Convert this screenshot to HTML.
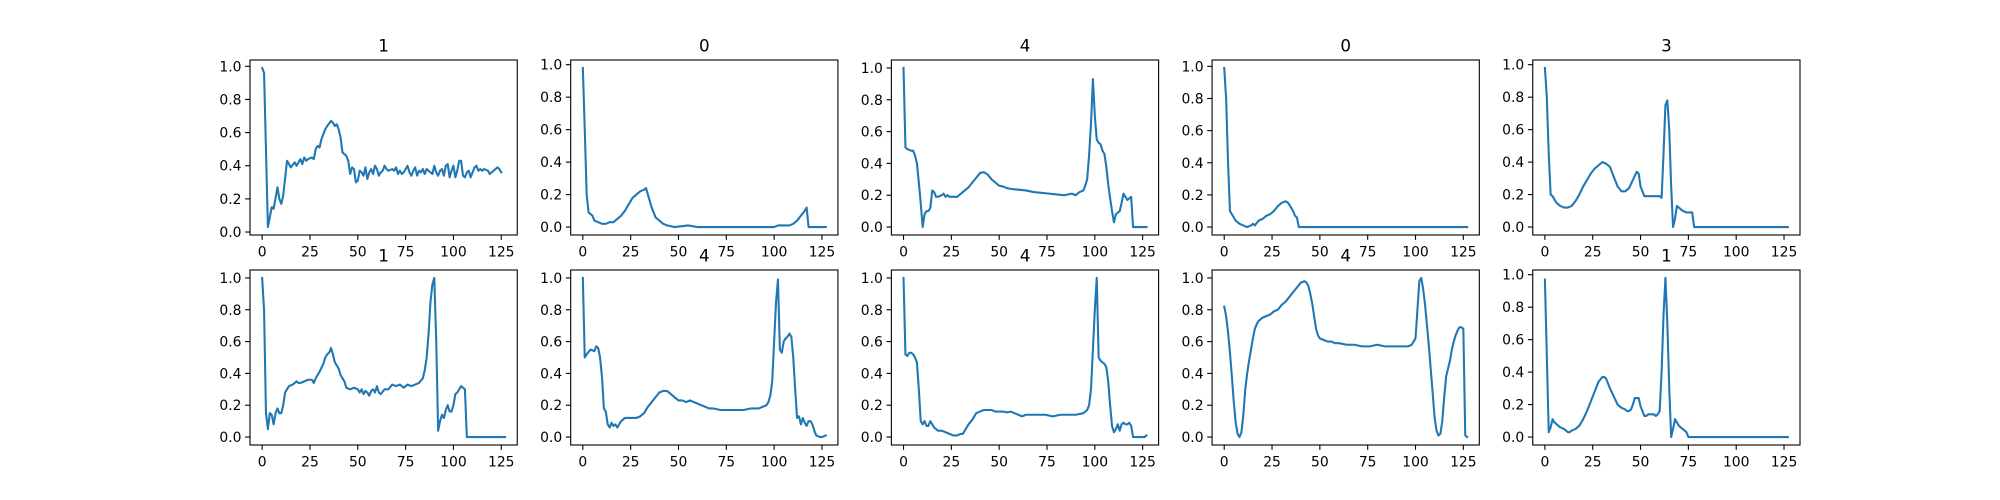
<!DOCTYPE html>
<html><head><meta charset="utf-8"><style>
html,body{margin:0;padding:0;background:#fff;}
svg{display:block;}
text{font-family:"DejaVu Sans","Liberation Sans",sans-serif;fill:#000;}
</style></head>
<body>
<svg id="fig" width="2000" height="500" xmlns="http://www.w3.org/2000/svg"></svg>
<script>
const titles = ["1","0","4","0","3","1","4","4","4","1"];
const xTicks = [0,25,50,75,100,125];
const yTicks = [0,0.2,0.4,0.6,0.8,1.0];
const yTickLabels = ["0.0","0.2","0.4","0.6","0.8","1.0"];
const s1 = [[0,0.99],[1,0.96],[3,0.03],[5,0.15],[6,0.14],[8,0.27],[9,0.2],[10,0.17],[11,0.22],[13,0.43],[14,0.41],[15,0.39],[17,0.42],[18,0.40],[20,0.44],[21,0.41],[22,0.45],[23,0.43],[24,0.44],[26,0.45],[27,0.44],[28,0.5],[29,0.52],[30,0.51],[31,0.56],[32,0.59],[33,0.62],[34,0.64],[36,0.67],[37,0.66],[38,0.64],[39,0.65],[40,0.62],[41,0.57],[42,0.48],[43,0.47],[44,0.46],[45,0.43],[46,0.35],[47,0.39],[48,0.38],[49,0.3],[50,0.31],[51,0.37],[52,0.36],[53,0.34],[54,0.39],[55,0.32],[56,0.36],[57,0.38],[58,0.35],[59,0.4],[60,0.38],[61,0.34],[62,0.36],[63,0.37],[64,0.40],[65,0.38],[66,0.37],[68,0.38],[69,0.37],[70,0.39],[71,0.35],[72,0.37],[73,0.35],[74,0.36],[76,0.40],[77,0.36],[78,0.34],[79,0.37],[80,0.39],[81,0.34],[82,0.37],[83,0.36],[84,0.38],[85,0.35],[86,0.38],[88,0.36],[89,0.35],[90,0.40],[91,0.36],[92,0.34],[93,0.37],[94,0.38],[95,0.34],[96,0.40],[97,0.41],[98,0.33],[99,0.37],[100,0.40],[101,0.33],[102,0.37],[103,0.43],[104,0.43],[105,0.34],[106,0.33],[107,0.36],[108,0.37],[109,0.33],[110,0.36],[111,0.39],[112,0.40],[113,0.37],[114,0.38],[115,0.37],[116,0.38],[118,0.37],[119,0.35],[121,0.37],[122,0.38],[123,0.39],[124,0.38],[125,0.36]];
const s2 = [[0,0.98],[1,0.6],[2,0.2],[3,0.09],[4,0.08],[5,0.07],[6,0.04],[8,0.03],[10,0.02],[12,0.02],[14,0.03],[16,0.03],[18,0.05],[20,0.07],[22,0.1],[24,0.14],[26,0.18],[28,0.2],[30,0.22],[32,0.23],[33,0.24],[34,0.2],[36,0.12],[38,0.06],[40,0.04],[42,0.02],[44,0.01],[48,0.0],[55,0.01],[60,0.0],[100,0.0],[102,0.01],[106,0.01],[108,0.01],[110,0.02],[112,0.04],[114,0.07],[116,0.1],[117,0.12],[118,0.0],[127,0.0]];
const s3 = [[0,1.0],[1,0.5],[2,0.49],[4,0.48],[5,0.48],[6,0.45],[7,0.4],[8,0.28],[9,0.15],[10,0.0],[11,0.08],[12,0.1],[13,0.1],[14,0.12],[15,0.23],[16,0.22],[17,0.19],[18,0.19],[20,0.2],[21,0.21],[22,0.19],[23,0.2],[24,0.19],[26,0.19],[28,0.19],[30,0.21],[32,0.23],[34,0.25],[36,0.28],[38,0.31],[40,0.34],[42,0.345],[44,0.33],[46,0.3],[48,0.28],[50,0.26],[52,0.255],[54,0.245],[56,0.24],[60,0.235],[64,0.23],[68,0.22],[72,0.215],[76,0.21],[80,0.205],[84,0.2],[88,0.21],[90,0.2],[92,0.22],[94,0.23],[95,0.26],[96,0.3],[97,0.45],[98,0.65],[99,0.93],[100,0.7],[101,0.55],[102,0.53],[103,0.52],[104,0.48],[105,0.46],[106,0.38],[107,0.27],[108,0.18],[109,0.1],[110,0.03],[111,0.08],[112,0.09],[113,0.1],[114,0.15],[115,0.21],[116,0.19],[117,0.17],[118,0.18],[119,0.19],[120,0.0],[127,0.0]];
const s4 = [[0,0.99],[1,0.8],[2,0.4],[3,0.1],[4,0.08],[5,0.06],[6,0.04],[7,0.03],[8,0.02],[10,0.01],[12,0.0],[14,0.01],[15,0.02],[16,0.01],[18,0.04],[20,0.05],[22,0.07],[24,0.08],[26,0.1],[28,0.13],[30,0.15],[32,0.16],[33,0.155],[34,0.14],[36,0.1],[37,0.07],[38,0.06],[39,0.0],[127,0.0]];
const s5 = [[0,0.98],[1,0.8],[2,0.45],[3,0.2],[4,0.19],[6,0.15],[8,0.13],[10,0.12],[12,0.12],[14,0.13],[16,0.16],[18,0.2],[20,0.25],[22,0.29],[24,0.33],[26,0.36],[28,0.38],[30,0.4],[32,0.39],[34,0.37],[36,0.31],[38,0.25],[40,0.22],[42,0.22],[44,0.24],[46,0.29],[48,0.34],[49,0.33],[50,0.25],[52,0.19],[54,0.19],[56,0.19],[58,0.19],[60,0.19],[61,0.18],[62,0.45],[63,0.75],[64,0.78],[65,0.6],[66,0.25],[67,0.0],[68,0.05],[69,0.13],[70,0.12],[72,0.1],[74,0.09],[76,0.09],[77,0.09],[78,0.0],[127,0.0]];
const s6 = [[0,1.0],[1,0.8],[2,0.15],[3,0.05],[4,0.15],[5,0.14],[6,0.08],[7,0.15],[8,0.18],[9,0.15],[10,0.15],[11,0.2],[12,0.28],[13,0.3],[14,0.32],[16,0.33],[18,0.35],[19,0.34],[20,0.34],[22,0.35],[24,0.36],[26,0.36],[27,0.34],[28,0.37],[29,0.39],[30,0.41],[32,0.46],[33,0.5],[34,0.52],[35,0.53],[36,0.56],[37,0.52],[38,0.47],[39,0.45],[40,0.43],[41,0.39],[42,0.37],[43,0.35],[44,0.31],[46,0.30],[48,0.31],[50,0.3],[51,0.28],[52,0.3],[53,0.27],[54,0.29],[55,0.28],[56,0.26],[57,0.29],[58,0.3],[59,0.28],[60,0.32],[61,0.28],[62,0.27],[64,0.3],[66,0.3],[68,0.33],[70,0.32],[72,0.33],[74,0.31],[76,0.33],[78,0.32],[80,0.33],[82,0.34],[84,0.37],[85,0.42],[86,0.5],[87,0.65],[88,0.85],[89,0.96],[90,1.0],[91,0.6],[92,0.04],[93,0.1],[94,0.14],[95,0.12],[96,0.17],[97,0.2],[98,0.16],[99,0.16],[100,0.2],[101,0.27],[102,0.28],[103,0.3],[104,0.32],[105,0.31],[106,0.3],[107,0.0],[127,0.0]];
const s7 = [[0,1.0],[1,0.5],[2,0.52],[4,0.55],[6,0.54],[7,0.57],[8,0.56],[9,0.5],[10,0.38],[11,0.18],[12,0.16],[13,0.08],[14,0.06],[15,0.09],[16,0.07],[17,0.08],[18,0.06],[20,0.1],[22,0.12],[24,0.12],[26,0.12],[28,0.12],[30,0.13],[32,0.15],[34,0.19],[36,0.22],[38,0.25],[40,0.28],[42,0.29],[44,0.29],[46,0.27],[48,0.25],[50,0.23],[52,0.23],[54,0.22],[56,0.23],[58,0.22],[60,0.21],[62,0.2],[64,0.19],[66,0.18],[68,0.18],[72,0.17],[76,0.17],[80,0.17],[84,0.17],[88,0.18],[92,0.18],[94,0.19],[96,0.2],[97,0.22],[98,0.26],[99,0.35],[100,0.6],[101,0.85],[102,0.99],[103,0.55],[104,0.53],[105,0.6],[106,0.62],[107,0.63],[108,0.65],[109,0.63],[110,0.5],[111,0.3],[112,0.12],[113,0.13],[114,0.08],[115,0.12],[116,0.09],[117,0.07],[118,0.1],[119,0.1],[120,0.08],[121,0.04],[122,0.01],[124,0.0],[125,0.0],[127,0.01]];
const s8 = [[0,1.0],[1,0.52],[2,0.51],[3,0.53],[4,0.53],[5,0.52],[6,0.5],[7,0.47],[8,0.3],[9,0.1],[10,0.08],[11,0.1],[12,0.07],[13,0.07],[14,0.1],[15,0.08],[16,0.06],[18,0.04],[20,0.04],[22,0.03],[24,0.02],[26,0.01],[28,0.01],[30,0.02],[31,0.02],[32,0.04],[34,0.08],[36,0.11],[38,0.15],[40,0.16],[42,0.17],[44,0.17],[46,0.17],[48,0.16],[50,0.16],[52,0.16],[54,0.155],[56,0.16],[58,0.15],[60,0.14],[62,0.13],[64,0.14],[66,0.14],[70,0.14],[74,0.14],[78,0.13],[82,0.14],[86,0.14],[90,0.14],[94,0.15],[96,0.17],[97,0.2],[98,0.3],[99,0.55],[100,0.8],[101,1.0],[102,0.5],[103,0.48],[104,0.47],[105,0.46],[106,0.44],[107,0.35],[108,0.2],[109,0.07],[110,0.03],[111,0.05],[112,0.08],[113,0.04],[114,0.08],[115,0.09],[116,0.08],[117,0.08],[118,0.09],[119,0.07],[120,0.0],[124,0.0],[126,0.0],[127,0.01]];
const s9 = [[0,0.82],[1,0.76],[2,0.66],[3,0.53],[4,0.38],[5,0.22],[6,0.09],[7,0.02],[8,0.0],[9,0.03],[10,0.14],[11,0.3],[12,0.4],[13,0.48],[14,0.55],[15,0.62],[16,0.68],[17,0.71],[18,0.73],[20,0.75],[22,0.76],[24,0.77],[26,0.79],[28,0.8],[30,0.83],[32,0.85],[34,0.88],[36,0.91],[38,0.94],[40,0.97],[42,0.98],[43,0.97],[44,0.95],[45,0.9],[46,0.84],[47,0.76],[48,0.68],[49,0.64],[50,0.62],[52,0.61],[54,0.6],[56,0.6],[58,0.59],[60,0.59],[64,0.58],[68,0.58],[72,0.57],[76,0.57],[80,0.58],[84,0.57],[88,0.57],[92,0.57],[96,0.57],[98,0.58],[99,0.6],[100,0.62],[101,0.8],[102,0.98],[103,1.0],[104,0.93],[105,0.83],[106,0.7],[107,0.57],[108,0.42],[109,0.27],[110,0.12],[111,0.04],[112,0.01],[113,0.02],[114,0.1],[115,0.25],[116,0.38],[117,0.43],[118,0.48],[119,0.55],[120,0.6],[121,0.64],[122,0.67],[123,0.69],[124,0.69],[125,0.68],[126,0.01],[127,0.0]];
const s10 = [[0,0.97],[1,0.5],[2,0.03],[3,0.06],[4,0.11],[5,0.09],[6,0.08],[7,0.07],[8,0.06],[10,0.05],[11,0.04],[12,0.03],[13,0.03],[14,0.04],[16,0.05],[18,0.07],[20,0.11],[22,0.16],[24,0.22],[26,0.28],[28,0.34],[30,0.37],[31,0.37],[32,0.36],[34,0.3],[36,0.25],[38,0.2],[40,0.18],[42,0.17],[43,0.16],[44,0.16],[45,0.17],[46,0.2],[47,0.24],[48,0.24],[49,0.24],[50,0.19],[51,0.16],[52,0.13],[53,0.13],[54,0.14],[55,0.14],[56,0.14],[57,0.14],[58,0.13],[59,0.14],[60,0.16],[61,0.4],[62,0.75],[63,0.98],[64,0.7],[65,0.3],[66,0.0],[67,0.05],[68,0.11],[69,0.09],[70,0.07],[71,0.06],[72,0.05],[73,0.04],[74,0.03],[75,0.0],[127,0.0]];
const series = [s1,s2,s3,s4,s5,s6,s7,s8,s9,s10];

const NS = "http://www.w3.org/2000/svg";
const fig = document.getElementById('fig');
const axW = 1550/5.8, gapW = axW*0.2, axH = 175, gapH = 35;
function mk(tag, attrs, parent){ const e=document.createElementNS(NS,tag); for(const k in attrs) e.setAttribute(k,attrs[k]); parent.appendChild(e); return e; }

series.forEach((data, i) => {
  const col = i%5, row = Math.floor(i/5);
  const L = 250 + col*(axW+gapW), T = 60 + row*(axH+gapH);
  const g = mk('g', {}, fig);
  
  
  const xmin = 0, xmax = 127, xr = xmax-xmin;
  const x0 = xmin-0.05*xr, x1 = xmax+0.05*xr;
  let ymin = Infinity, ymax = -Infinity;
  data.forEach(p => { ymin=Math.min(ymin,p[1]); ymax=Math.max(ymax,p[1]); });
  const yr = ymax-ymin, y0 = ymin-0.05*yr, y1 = ymax+0.05*yr;
  const sx = v => L + (v-x0)/(x1-x0)*axW;
  const sy = v => T + axH - (v-y0)/(y1-y0)*axH;
  // line
  const line = mk('polyline', {points: data.map(p=>sx(p[0]).toFixed(2)+','+sy(p[1]).toFixed(2)).join(' '), fill:'none', stroke:'#1f77b4', 'stroke-width':'2.08', 'stroke-linejoin':'round', 'stroke-linecap':'square'}, g);
  
  
  // frame
  const fr = mk('rect', {x:L, y:T, width:axW, height:axH, fill:'none', stroke:'#000', 'stroke-width':'1.1'}, g);
  
  
  // x ticks
  xTicks.forEach(t => {
    const x = sx(t);
    mk('line', {x1:x, x2:x, y1:T+axH, y2:T+axH+4.86, stroke:'#000', 'stroke-width':'1.1'}, g);
    const tx = mk('text', {x:x, y:T+axH+21.5, 'text-anchor':'middle', 'font-size':'13.9'}, g);
    tx.textContent = String(t);
    
    
  });
  // y ticks
  yTicks.forEach((t, k) => {
    const y = sy(t);
    mk('line', {x1:L-4.86, x2:L, y1:y, y2:y, stroke:'#000', 'stroke-width':'1.1'}, g);
    const ty = mk('text', {x:L-8.5, y:y+5, 'text-anchor':'end', 'font-size':'13.9'}, g);
    ty.textContent = yTickLabels[k];
    
    
  });
  const tt = mk('text', {x:L+axW/2, y:T-8.3, 'text-anchor':'middle', 'font-size':'16.7'}, g);
  tt.textContent = titles[i];
  
  
});
</script>
</body></html>
